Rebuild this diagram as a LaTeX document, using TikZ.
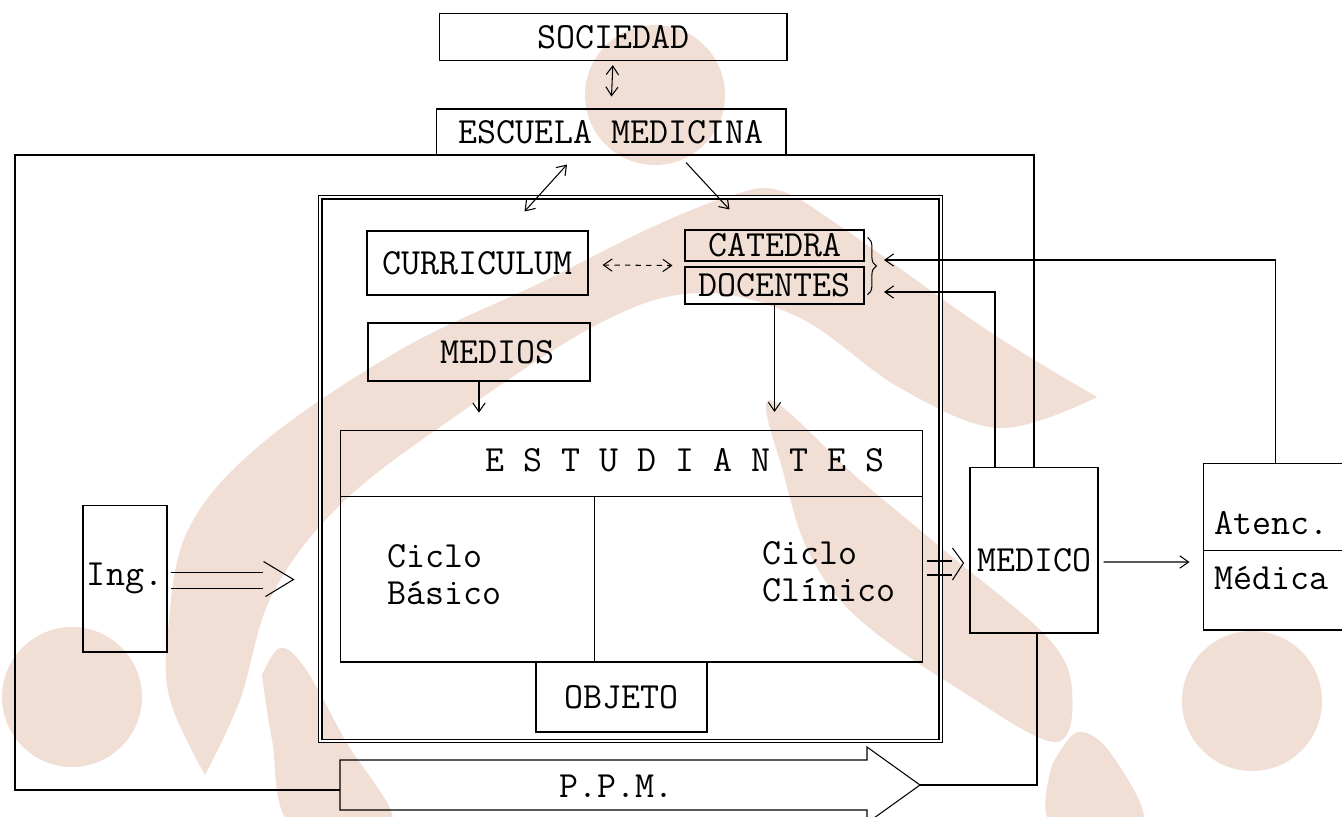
\documentclass[tikz,border=0pt]{standalone}
\usepackage{fontspec}
\usepackage{tikz}
\usetikzlibrary{arrows.meta, positioning, calc, decorations.pathreplacing}
\definecolor{wmPeach}{HTML}{F1DFD5}

\tikzset{
  typed/.style={font=\ttfamily\fontsize{21}{21}\selectfont},
  caja/.style={draw, line width=0.6pt, typed, inner sep=1pt},
  conn/.style={line width=0.6pt, -{Straight Barb[length=5pt, width=7pt]}},
  connboth/.style={line width=0.6pt, {Straight Barb[length=5pt, width=7pt]}-{Straight Barb[length=5pt, width=7pt]}},
  linea/.style={line width=0.6pt},
  marca/.style={fill=wmPeach, draw=none},
}

\begin{document}
\begin{tikzpicture}[x=0.02cm, y=-0.02cm]
    \useasboundingbox (0,0) rectangle (1342,816);

    % Watermark
    \fill[marca] (72,697) circle[radius=70];
    \fill[marca] (1252,701) circle[radius=70];
    \fill[marca] (655,95) circle[radius=70];
    \fill[marca] plot[smooth, tension=0.6] coordinates {(205,775) (170,700) (168,630) (188,530) (260,445) (400,350) (540,283) (650,228) (730,196) (778,190) (840,226) (987,330) (1097,397)}
        -- plot[smooth, tension=0.6] coordinates {(1097,397) (1000,428) (900,388) (800,318) (700,293) (600,323) (450,420) (340,505) (272,595) (240,700) (205,775)} -- cycle;
    \fill[marca] plot[smooth cycle, tension=0.6] coordinates {(770,400) (860,480) (950,555) (1047,637) (1072,690) (1055,742) (960,690) (860,620) (810,555) (784,475)};
    \fill[marca] plot[smooth, tension=0.6] coordinates {(262,675) (280,648) (305,668) (345,740) (392,825) (292,825) (272,740) (262,675)};
    \fill[marca] plot[smooth, tension=0.6] coordinates {(1052,765) (1078,732) (1112,755) (1142,825) (1052,825) (1052,765)};

    % Outer frame
    \node[draw, linea, double, double distance=1.6pt, minimum width=12.42cm, minimum height=10.88cm] (marco) at (630.5,469) {};

    % Boxes
    \node[caja, minimum width=6.96cm, minimum height=0.94cm] (soc) at (613,37) {SOCIEDAD};
    \node[caja, minimum width=7.00cm, minimum height=0.92cm] (esc) at (611,132) {ESCUELA MEDICINA};
    \node[caja, minimum width=4.42cm, minimum height=1.28cm] (cur) at (477.5,263) {CURRICULUM};
    \node[caja, minimum width=4.44cm, minimum height=1.16cm] (medios) at (479,352) {};
    \node[typed] (mediosT) at (497,352) {MEDIOS};
    \node[caja, minimum width=3.58cm, minimum height=0.62cm] (cat) at (774.5,245.5) {CATEDRA};
    \node[caja, minimum width=3.58cm, minimum height=0.74cm] (doc) at (774.5,285.5) {DOCENTES};
    \node[caja, minimum width=11.66cm, minimum height=4.64cm] (est) at (631.5,546) {};
    \node[caja, minimum width=3.42cm, minimum height=1.40cm] (obj) at (621.5,697) {OBJETO};
    \node[caja, minimum width=1.68cm, minimum height=2.94cm] (ing) at (125,578.5) {Ing.};
    \node[caja, minimum width=2.56cm, minimum height=3.32cm] (medico) at (1034,550) {};
    \node[typed] (medicoT) at (1034,560) {MEDICO};
    \node[caja, minimum width=3.34cm, minimum height=3.34cm] (aten) at (1286.5,546.5) {};

    % Estudiantes
    \draw[linea] ($(est.north west)+(0,67)$) -- ($(est.north east)+(0,67)$);
    \draw[linea] ($(est.south west)+(255,0)$) -- ($(est.north west)+(255,67)$);
    \node[typed, anchor=west] (estTit) at (479,460) {E S T U D I A N T E S};
    \node[typed, anchor=west, align=left] (basico) at (381,575) {Ciclo\\Básico};
    \node[typed, anchor=west, align=left] (clinico) at (756,572) {Ciclo\\Clínico};

    % Atencion medica
    \draw[linea] ($(aten.west)+(0,4)$) -- ($(aten.east)+(0,4)$);
    \node[typed, anchor=west] (atenA) at (1208,523) {Atenc.};
    \node[typed, anchor=west] (atenB) at (1208,578) {Médica};

    % P.P.M.
    \node[typed] (ppm) at (616,786) {P.P.M.};
    \coordinate (ppmcola) at (340,790);
    \coordinate (ppmpunta) at (920,785);
    \draw[linea] (340,760) -- (867,760) -- (867,747) -- (ppmpunta) -- (867,823) -- (867,810) -- (340,810) -- cycle;

    % Arrows
    \draw[connboth, shorten <=2.3pt, shorten >=6.8pt] (soc.south) -- (esc.north);
    \draw[connboth] ($(esc.south)+(-44,9)$) -- ($(cur.north)+(47,-19)$);
    \draw[conn] ($(esc.south)+(75,7)$) -- ($(cat.north)+(-45,-20)$);
    \draw[connboth, dashed] ($(cur.east)+(14,2)$) -- ($(cat.south west)+(-12,4)$);
    \draw[conn, shorten >=9.6pt] (medios.south) -- (medios.south |- est.north);
    \draw[conn, shorten >=10pt] (doc.south) -- (doc.south |- est.north);
    \draw[conn] ($(medico.east)+(5,12)$) -- ($(aten.west)+(-13,15.5)$);

    % Brace and feedback
    \draw[linea, decorate, decoration={brace, amplitude=5pt}] ($(cat.north east)+(3,8)$) -- ($(doc.south east)+(3,-10)$);
    \coordinate (catIn) at (884,260);
    \coordinate (docIn) at (884,292);
    \draw[conn] ($(aten.north)+(-11,0)$) |- (catIn);
    \draw[conn] ($(medico.north)+(-39,0)$) |- (docIn);

    % Loop
    \coordinate (esqSup) at (15,155);
    \draw[linea] (ppmcola) -| (esqSup) -| (medico.north);
    \draw[linea] ($(medico.south)+(3,0)$) |- (ppmpunta);

    % Hollow arrows
    \draw[linea] ($(ing.east)+(3,-6)$) -- ++(92,0);
    \draw[linea] ($(ing.east)+(3,10)$) -- ++(92,0);
    \draw[linea] ($(ing.east)+(96,-17)$) -- ++(30,18) -- ++(-28,17);
    \draw[linea] ($(est.east)+(4,15)$) -- ++(25,0);
    \draw[linea] ($(est.east)+(4,29)$) -- ++(25,0);
    \draw[linea] ($(est.east)+(29,2)$) -- ++(11,15) -- ++(-11,17);
\end{tikzpicture}
\end{document}
